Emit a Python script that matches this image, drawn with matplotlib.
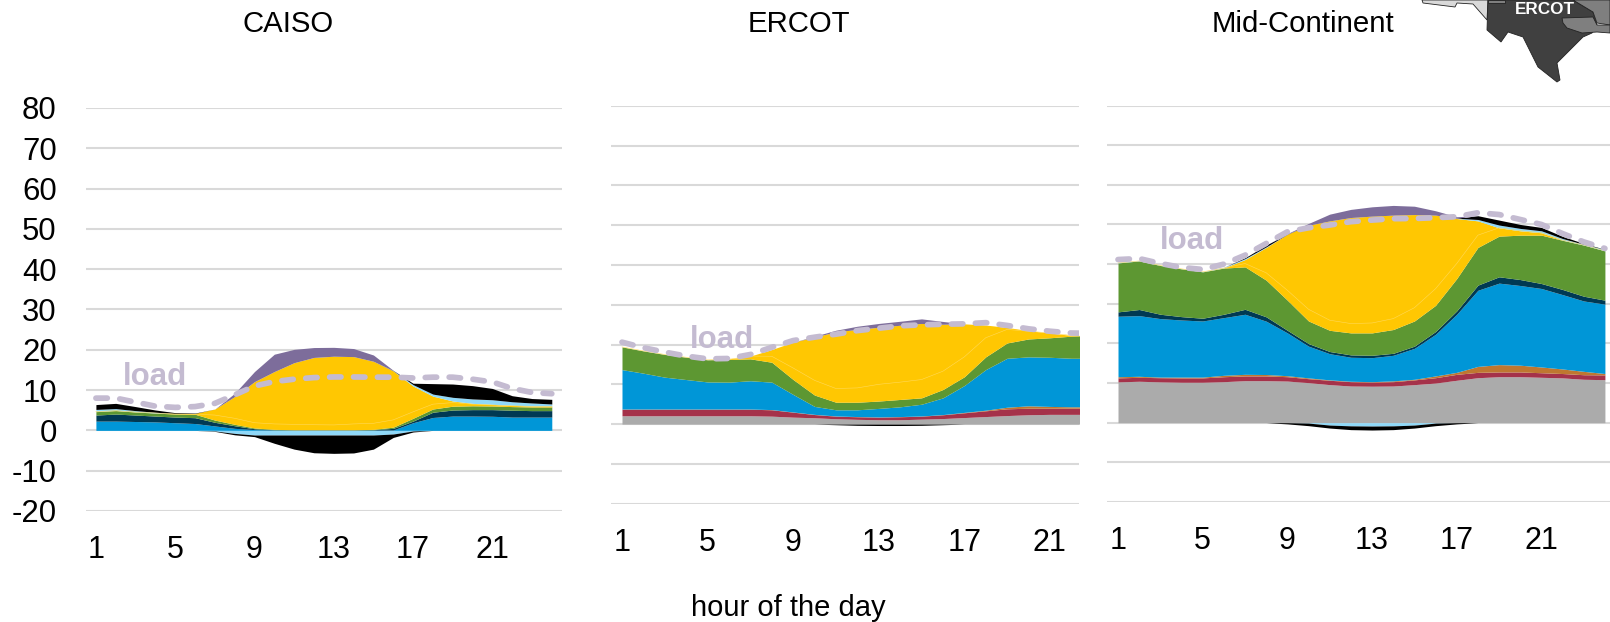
import matplotlib
matplotlib.use('Agg')
import matplotlib.pyplot as plt
import numpy as np
from matplotlib.patches import Polygon

plt.rcParams['font.family'] = ['Liberation Sans', 'DejaVu Sans']
plt.rcParams['axes.unicode_minus'] = False

W, H = 1610, 622

GRAY, RED, ORANGE, BLUE, NAVY = '#ABABAB', '#A5324A', '#BF7730', '#0096D7', '#003953'
GREEN, YELLOW, SKY, BLACK, PURPLE = '#5D9732', '#FFC702', '#8FD8F8', '#000000', '#7D6D9B'
LOAD = '#C4BBD1'

# stack tops (cumulative, in GW)
ca_blue = [2.3, 2.3, 2.2, 2.1, 1.9, 1.7, 1.1, .5, .2, .1, .05, .05, .05, .05, .05, .1, 1.9, 3.2, 3.55, 3.55, 3.5, 3.3, 3.3, 3.3]
ca_navy = [3.8, 4.05, 3.8, 3.55, 3.3, 3.15, 2.0, 1.15, .4, .15, .1, .1, .1, .1, .15, .5, 2.3, 4.5, 5.05, 5.15, 5.15, 5.0, 4.9, 4.9]
ca_green = [4.65, 4.9, 4.55, 4.3, 4.05, 4.0, 2.55, 1.5, .6, .25, .15, .15, .15, .15, .25, .8, 3.0, 5.3, 6.0, 6.1, 6.05, 5.9, 5.8, 5.8]
ca_seam = [4.65, 4.9, 4.55, 4.3, 4.05, 4.0, 3.8, 3.0, 1.9, 1.6, 1.5, 1.4, 1.35, 1.6, 1.75, 2.6, 4.6, 6.5, 6.9, 6.5, 6.3, 6.1, 5.95, 5.95]
ca_yellow = [4.7, 4.95, 4.6, 4.3, 4.15, 4.2, 5.3, 8.4, 12.1, 14.6, 16.8, 18.1, 18.4, 18.3, 17.15, 14.75, 11.0, 8.5, 7.3, 6.7, 6.45, 6.2, 6.05, 6.05]
ca_sky = [5.2, 5.4, 4.9, 4.5, 4.2, 4.2, 5.3, 8.4, 12.1, 14.6, 16.8, 18.1, 18.4, 18.3, 17.15, 14.8, 11.35, 9.0, 8.2, 7.8, 7.6, 7.1, 6.8, 6.55]
ca_black = [6.4, 6.7, 5.9, 5.05, 4.4, 4.3, 5.3, 8.4, 12.1, 14.6, 16.8, 18.1, 18.4, 18.3, 17.15, 14.85, 11.7, 11.6, 11.5, 11.1, 10.4, 8.6, 7.9, 7.7]
ca_purple = [6.4, 6.7, 5.9, 5.05, 4.4, 4.3, 5.3, 9.2, 14.6, 18.9, 20.1, 20.55, 20.6, 20.3, 18.7, 14.9, 11.7, 11.6, 11.5, 11.1, 10.4, 8.6, 7.9, 7.7]
ca_neg_sky = [0, 0, 0, 0, 0, 0, -.15, -.75, -1.15, -1.15, -1.15, -1.15, -1.15, -1.15, -1.15, -.9, -.15, 0, 0, 0, 0, 0, 0, 0]
ca_neg_black = [0, 0, 0, 0, 0, 0, -.25, -1.1, -1.55, -3.2, -4.65, -5.55, -5.7, -5.6, -4.65, -1.75, -.4, 0, 0, 0, 0, 0, 0, 0]
ca_load = [8.0, 8.0, 7.0, 6.0, 5.7, 5.9, 6.7, 8.8, 11.0, 12.1, 12.7, 13.1, 13.25, 13.25, 13.2, 13.2, 13.0, 13.2, 13.2, 12.7, 12.0, 10.4, 9.4, 9.1]

er_gray = [2.1, 2.1, 2.1, 2.1, 2.1, 2.1, 2.1, 2.0, 1.75, 1.6, 1.35, 1.2, 1.1, 1.1, 1.25, 1.4, 1.65, 1.9, 2.15, 2.35, 2.45, 2.45, 2.45]
er_red = [3.75, 3.75, 3.75, 3.75, 3.75, 3.75, 3.75, 3.6, 3.0, 2.4, 2.0, 1.85, 1.75, 1.85, 2.0, 2.35, 2.85, 3.35, 3.85, 4.0, 4.0, 4.0, 4.0]
er_orange = [3.8, 3.8, 3.8, 3.8, 3.8, 3.8, 3.8, 3.65, 3.05, 2.45, 2.05, 1.9, 1.8, 1.9, 2.05, 2.4, 2.95, 3.5, 4.25, 4.6, 4.45, 4.35, 4.35]
er_blue = [13.7, 12.8, 11.8, 11.2, 10.6, 10.55, 10.9, 10.55, 7.45, 4.45, 3.6, 3.6, 3.95, 4.35, 5.0, 6.6, 9.7, 13.7, 16.55, 16.9, 16.8, 16.55, 16.55]
er_green = [19.4, 18.4, 17.5, 16.8, 16.15, 16.25, 16.4, 15.55, 11.2, 7.3, 5.5, 5.5, 5.8, 6.2, 6.6, 8.7, 11.9, 16.9, 20.4, 21.4, 21.7, 22.1, 22.3]
er_seam = [19.4, 18.4, 17.5, 16.8, 16.15, 16.3, 17.1, 17.05, 14.1, 11.0, 8.95, 9.1, 10.0, 10.55, 11.2, 13.3, 16.9, 21.7, 23.8, 23.35, 22.9, 22.3, 22.3]
er_yellow = [19.4, 18.4, 17.5, 16.8, 16.15, 16.4, 17.1, 18.75, 20.6, 21.9, 23.2, 23.8, 24.35, 24.85, 25.3, 25.1, 25.2, 24.9, 24.3, 23.5, 22.9, 22.3, 22.3]
er_purple = [19.4, 18.4, 17.5, 16.8, 16.15, 16.4, 17.1, 18.75, 20.6, 22.1, 23.6, 24.6, 25.3, 25.85, 26.45, 25.8, 25.2, 24.9, 24.3, 23.5, 22.9, 22.3, 22.3]
er_neg_black = [0, 0, 0, 0, 0, 0, 0, 0, 0, 0, -.15, -.3, -.35, -.35, -.3, -.15, 0, 0, 0, 0, 0, 0, 0]
er_load = [20.6, 19.2, 18.1, 17.1, 16.4, 16.5, 17.5, 19.3, 21.0, 21.85, 22.6, 23.5, 24.1, 24.7, 24.95, 25.1, 25.2, 25.5, 24.8, 23.95, 23.35, 22.9, 22.8]

mc_gray = [10.3, 10.45, 10.3, 10.2, 10.2, 10.35, 10.6, 10.6, 10.5, 10.1, 9.6, 9.25, 9.2, 9.25, 9.6, 10.0, 10.7, 11.35, 11.6, 11.6, 11.45, 11.3, 10.95, 10.85]
mc_red = [11.3, 11.45, 11.35, 11.3, 11.3, 11.6, 11.8, 11.8, 11.6, 11.1, 10.7, 10.35, 10.25, 10.35, 10.8, 11.35, 12.2, 12.7, 12.8, 12.8, 12.6, 12.4, 12.1, 12.05]
mc_orange = [11.6, 11.7, 11.5, 11.5, 11.5, 11.95, 12.2, 12.15, 11.85, 11.3, 10.8, 10.45, 10.35, 10.55, 10.95, 11.8, 12.7, 14.2, 14.65, 14.5, 14.05, 13.55, 12.95, 12.4]
mc_blue = [26.85, 27.0, 26.25, 25.9, 25.65, 26.5, 27.35, 25.6, 22.65, 19.3, 17.4, 16.5, 16.4, 17.0, 18.75, 22.3, 27.35, 33.4, 35.2, 34.6, 33.85, 32.3, 30.7, 29.9]
mc_navy = [27.95, 28.55, 27.35, 26.75, 26.35, 27.35, 28.6, 26.7, 23.3, 19.95, 17.95, 17.1, 17.0, 17.5, 19.3, 23.0, 28.2, 34.7, 36.8, 36.1, 35.1, 33.6, 31.9, 30.9]
mc_green = [40.3, 40.8, 39.65, 38.8, 38.05, 39.0, 39.3, 35.95, 30.9, 25.65, 23.3, 22.65, 22.65, 23.5, 25.65, 29.6, 36.35, 44.2, 47.05, 47.3, 47.3, 46.0, 44.8, 43.35]
mc_seam = [40.3, 40.8, 39.65, 38.8, 38.05, 39.0, 40.15, 37.8, 33.4, 28.6, 25.85, 25.0, 25.15, 26.25, 29.0, 33.8, 40.15, 47.3, 49.15, 48.4, 47.9, 46.05, 44.8, 43.35]
mc_yellow = [40.3, 40.8, 39.65, 38.8, 38.05, 39.05, 41.15, 44.2, 47.55, 49.8, 50.9, 51.75, 52.1, 52.35, 52.5, 52.35, 51.5, 50.9, 49.15, 48.4, 47.9, 46.05, 44.8, 43.35]
mc_sky = [40.4, 40.9, 39.7, 38.85, 38.1, 39.2, 41.4, 44.35, 47.55, 49.8, 50.9, 51.75, 52.1, 52.35, 52.5, 52.35, 51.55, 51.25, 49.85, 49.0, 48.4, 46.45, 45.0, 43.7]
mc_black = [40.4, 40.9, 39.7, 38.85, 38.1, 39.2, 41.6, 44.8, 47.6, 49.8, 50.9, 51.75, 52.1, 52.35, 52.5, 52.35, 51.6, 52.2, 51.1, 50.0, 49.25, 47.0, 45.2, 43.75]
mc_purple = [40.4, 40.9, 39.7, 38.85, 38.1, 39.2, 41.6, 44.8, 47.7, 50.25, 52.6, 53.8, 54.45, 54.8, 54.6, 53.45, 51.95, 52.2, 51.1, 50.0, 49.25, 47.0, 45.2, 43.75]
mc_neg_sky = [0, 0, 0, 0, 0, 0, 0, 0, 0, -.1, -.6, -.8, -.85, -.8, -.6, -.1, 0, 0, 0, 0, 0, 0, 0, 0]
mc_neg_black = [0, 0, 0, 0, 0, 0, 0, 0, -.3, -.75, -1.35, -1.75, -1.85, -1.75, -1.35, -.75, -.3, 0, 0, 0, 0, 0, 0, 0]
mc_load = [41.15, 41.4, 40.15, 39.15, 38.65, 40.0, 42.25, 45.2, 48.15, 49.15, 49.85, 50.7, 51.1, 51.45, 51.5, 51.7, 51.95, 52.95, 52.5, 51.25, 50.0, 47.7, 45.6, 43.95]

yticks = [-20, -10, 0, 10, 20, 30, 40, 50, 60, 70, 80]
hour_ticks = [1, 5, 9, 13, 17, 21]
titles = ['CAISO', 'ERCOT', 'Mid-Continent']

# map pieces, pixels of the picture
map_light = [(1422, 0), (1423, 3), (1455, 7), (1457, 3), (1473, 4), (1487, 20), (1488, 0)]
map_corner = [(1488, 0), (1488, 3), (1505, 3), (1505, 0)]
map_ercot = [(1488, 0), (1487, 30), (1501, 42), (1508, 32), (1523, 37), (1538, 67), (1557, 82), (1560, 80), (1557, 63), (1570, 50), (1583, 37), (1592, 33), (1597, 25), (1593, 12), (1573, 0)]
map_east = [(1573, 0), (1593, 12), (1597, 23), (1610, 25), (1610, 0)]
map_strip = [(1562, 18), (1593, 17), (1597, 25), (1610, 25), (1610, 33), (1597, 32), (1582, 33), (1567, 28), (1563, 23)]


def draw_panel(box, xlim, layers, neg_layers, load, load_pos, title, title_x, seam, left=False):
    ax = fig.add_axes([box[0] / W, 1 - box[3] / H, (box[1] - box[0]) / W, (box[3] - box[2]) / H])
    hours = np.arange(1, len(load) + 1)
    lower = np.zeros(len(load))
    for top, color in layers:
        ax.fill_between(hours, lower, top, color=color, lw=0, zorder=2)
        lower = np.array(top)
    lower = np.zeros(len(load))
    for bottom, color in neg_layers:
        ax.fill_between(hours, lower, bottom, color=color, lw=0, zorder=2)
        lower = np.array(bottom)
    ax.plot(hours, seam, color='#FFD95A', lw=0.4, zorder=3)
    ax.plot(hours, load, color=LOAD, lw=4.1, dashes=(2.0, 2.2), dash_capstyle='round', zorder=4)
    ax.set_xlim(*xlim)
    ax.set_ylim(-20, 80)
    ax.set_yticks(yticks)
    ax.set_xticks(hour_ticks)
    ax.grid(axis='y', color='#D9D9D9', lw=1.5, zorder=0)
    ax.set_axisbelow(True)
    for s in ax.spines.values():
        s.set_visible(False)
    ax.tick_params(axis='x', length=0, pad=17.5, labelsize=22)
    ax.tick_params(axis='y', length=0, pad=21, labelsize=22.4, labelleft=left)
    fig.text(title_x / W, 1 - 24 / H, title, ha='center', va='center', fontsize=21.2)
    fig.text(load_pos[0] / W, 1 - (load_pos[1] + 2) / H, 'load', ha='center', va='center',
             fontsize=22.5, fontweight='bold', color=LOAD)
    return ax


fig = plt.figure(figsize=(W / 100, H / 100), dpi=100)

draw_panel((86, 561.7, 107.9, 511), (0.5, 24.5),
           [(ca_blue, BLUE), (ca_navy, NAVY), (ca_green, GREEN), (ca_yellow, YELLOW),
            (ca_sky, SKY), (ca_black, BLACK), (ca_purple, PURPLE)],
           [(ca_neg_sky, SKY), (ca_neg_black, BLACK)],
           ca_load, (155, 375), titles[0], 288.5, ca_seam, left=True)

draw_panel((611, 1079, 105.8, 503.7), (0.486, 22.36),
           [(er_gray, GRAY), (er_red, RED), (er_orange, ORANGE), (er_blue, BLUE),
            (er_green, GREEN), (er_yellow, YELLOW), (er_purple, PURPLE)],
           [(er_neg_black, BLACK)],
           er_load, (722, 338), titles[1], 799, er_seam)

draw_panel((1107, 1610, 105.5, 502), (0.48, 24.24),
           [(mc_gray, GRAY), (mc_red, RED), (mc_orange, ORANGE), (mc_blue, BLUE), (mc_navy, NAVY),
            (mc_green, GREEN), (mc_yellow, YELLOW), (mc_sky, SKY), (mc_black, BLACK), (mc_purple, PURPLE)],
           [(mc_neg_sky, SKY), (mc_neg_black, BLACK)],
           mc_load, (1192, 239), titles[2], 1303, mc_seam)

# little map top right
bg = fig.add_axes([0, 0, 1, 1], facecolor='none')
bg.set_xlim(0, W)
bg.set_ylim(H, 0)
bg.axis('off')
bg.add_patch(Polygon(map_light, closed=True, fc='#D9D9D9', ec='#222222', lw=0.6))
bg.add_patch(Polygon(map_ercot, closed=True, fc='#404040', ec='#222222', lw=0.6))
bg.add_patch(Polygon(map_corner, closed=True, fc='#7F7F7F', ec='#222222', lw=0.6))
bg.add_patch(Polygon(map_east, closed=True, fc='#7F7F7F', ec='#222222', lw=0.6))
bg.add_patch(Polygon(map_strip, closed=True, fc='#7F7F7F', ec='#222222', lw=0.6))
bg.text(1545, 10, 'ERCOT', color='white', fontsize=12.3, fontweight='bold', ha='center', va='center')

fig.text(788 / W, 1 - 608 / H, 'hour of the day', ha='center', va='center', fontsize=21)

fig.savefig('out.png', dpi=100)
